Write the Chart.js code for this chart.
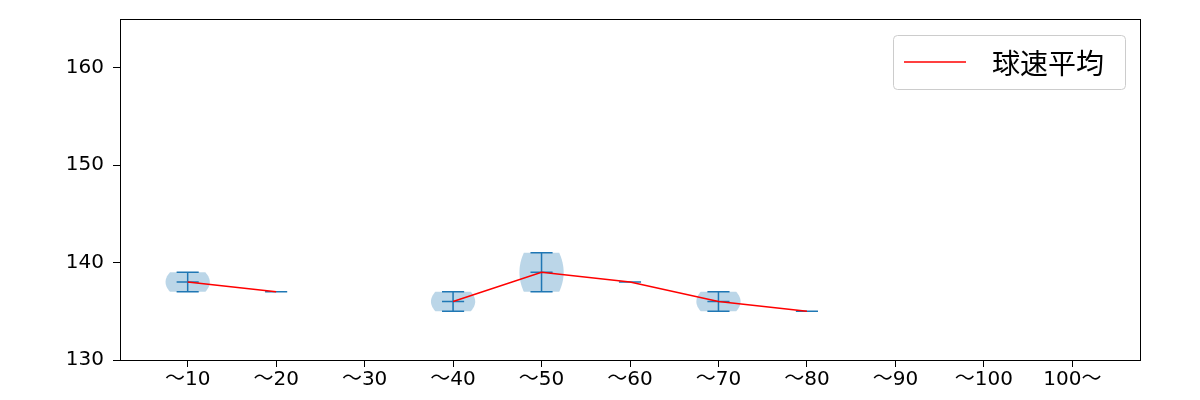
<!DOCTYPE html>
<html>
<head>
<meta charset="utf-8">
<script src="https://cdn.jsdelivr.net/npm/chart.js@4/dist/chart.umd.min.js"></script>
<style>
  body { margin: 0; background: #fff; }
  #wrap { width: 1200px; height: 400px; }
</style>
</head>
<body>
<div id="wrap"><canvas id="speedChart" width="1200" height="400"></canvas></div>
<script>
// 投球数区分ごとの球速（km/h）
const categories = ["～10", "～20", "～30", "～40", "～50", "～60", "～70", "～80", "～90", "～100", "100～"];
const speedMean = [138, 137, null, 136, 139, 138, 136, 135, null, null, null];
const speedMin  = [137, 137, null, 135, 137, 138, 135, 135, null, null, null];
const speedMax  = [139, 137, null, 137, 141, 138, 137, 135, null, null, null];
const yTicks = [130, 140, 150, 160];
const legendLabel = "球速平均";

const blue = "#1f77b4";
const tickFont = { family: "'DejaVu Sans', 'Noto Sans CJK JP', sans-serif", size: 20 };

// バイオリン＋ひげを描くプラグイン
const violinPlugin = {
    id: "violins",
    beforeDatasetsDraw(chart) {
        const { ctx, chartArea, scales: { x, y } } = chart;
        ctx.save();
        ctx.beginPath();
        ctx.rect(chartArea.left, chartArea.top, chartArea.right - chartArea.left, chartArea.bottom - chartArea.top);
        ctx.clip();
        const unit = x.getPixelForValue(2) - x.getPixelForValue(1);
        const half = unit * 0.25;
        const cap = unit * 0.125;
        categories.forEach((c, i) => {
            if (speedMin[i] == null) return;
            const cx = x.getPixelForValue(i + 1);
            const top = y.getPixelForValue(speedMax[i]);
            const bottom = y.getPixelForValue(speedMin[i]);
            if (speedMax[i] > speedMin[i]) {
                ctx.beginPath();
                const n = 24;
                for (let k = 0; k <= n; k++) {
                    const t = k / n;
                    const w = half * (1 - 0.2 * Math.pow(2 * t - 1, 2));
                    const py = top + (bottom - top) * t;
                    if (k === 0) ctx.moveTo(cx - w, py); else ctx.lineTo(cx - w, py);
                }
                for (let k = n; k >= 0; k--) {
                    const t = k / n;
                    const w = half * (1 - 0.2 * Math.pow(2 * t - 1, 2));
                    ctx.lineTo(cx + w, top + (bottom - top) * t);
                }
                ctx.closePath();
                ctx.fillStyle = "rgba(31,119,180,0.3)";
                ctx.fill();
            }
            ctx.strokeStyle = blue;
            ctx.lineWidth = 1.5;
            ctx.beginPath();
            ctx.moveTo(cx, top); ctx.lineTo(cx, bottom);
            [speedMax[i], speedMin[i], speedMean[i]].forEach(v => {
                const py = y.getPixelForValue(v);
                ctx.moveTo(cx - cap, py); ctx.lineTo(cx + cap, py);
            });
            ctx.stroke();
        });
        ctx.restore();
    },
    afterDraw(chart) {
        const { ctx, chartArea } = chart;
        ctx.save();
        // 外枠
        ctx.strokeStyle = "#000";
        ctx.lineWidth = 1;
        ctx.strokeRect(chartArea.left + 0.5, chartArea.top + 0.5, chartArea.right - chartArea.left, chartArea.bottom - chartArea.top);
        // 凡例
        const bw = 232, bh = 54;
        const bx = chartArea.right - 15 - bw, by = chartArea.top + 16;
        ctx.beginPath();
        ctx.roundRect(bx + 0.5, by + 0.5, bw, bh, 4);
        ctx.fillStyle = "rgba(255,255,255,0.8)";
        ctx.fill();
        ctx.strokeStyle = "#cccccc";
        ctx.stroke();
        const ly = by + bh / 2;
        ctx.strokeStyle = "red";
        ctx.lineWidth = 1.5;
        ctx.beginPath();
        ctx.moveTo(bx + 11, ly); ctx.lineTo(bx + 73, ly);
        ctx.stroke();
        ctx.fillStyle = "#000";
        ctx.font = "28px 'Noto Sans CJK JP', sans-serif";
        ctx.textBaseline = "middle";
        ctx.fillText(legendLabel, bx + 99, ly + 1);
        ctx.restore();
    }
};

const ctx = document.getElementById("speedChart").getContext("2d");
const speedChart = new Chart(ctx, {
    type: "line",
    data: {
        datasets: [{
            label: legendLabel,
            data: categories.map((c, i) => ({ x: i + 1, y: speedMean[i] })),
            borderColor: "red",
            borderWidth: 1.5,
            pointRadius: 0,
            spanGaps: false,
            tension: 0
        }]
    },
    options: {
        responsive: false,
        animation: false,
        layout: { padding: { top: 19, right: 60, left: 0, bottom: 0 } },
        plugins: { legend: { display: false }, tooltip: { enabled: false } },
        scales: {
            x: {
                type: "linear",
                min: 0.235,
                max: 11.765,
                afterBuildTicks: axis => { axis.ticks = categories.map((c, i) => ({ value: i + 1 })); },
                afterFit: axis => { axis.height = 40; },
                ticks: {
                    color: "#000",
                    font: tickFont,
                    padding: 1,
                    maxRotation: 0,
                    autoSkip: false,
                    callback: v => categories[v - 1]
                },
                grid: { drawOnChartArea: false, tickLength: 7, tickColor: "#000", tickWidth: 1 },
                border: { color: "#000", width: 1 }
            },
            y: {
                min: 130,
                max: 165,
                afterBuildTicks: axis => { axis.ticks = yTicks.map(v => ({ value: v })); },
                afterFit: axis => { axis.width = 120; axis.paddingTop = 0; axis.paddingBottom = 0; },
                ticks: { color: "#000", font: tickFont, padding: 9 },
                grid: { drawOnChartArea: false, tickLength: 7, tickColor: "#000", tickWidth: 1 },
                border: { color: "#000", width: 1 }
            }
        }
    },
    plugins: [violinPlugin]
});
</script>
</body>
</html>
